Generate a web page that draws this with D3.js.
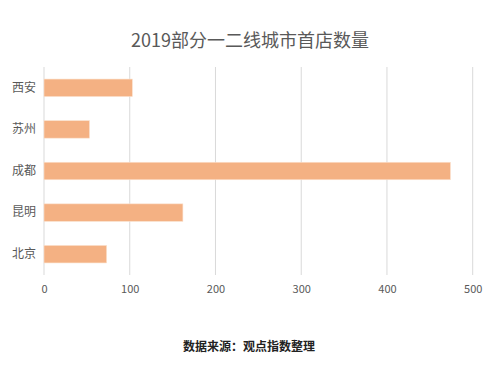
<!DOCTYPE html>
<html><head><meta charset="utf-8">
<script src="https://cdn.jsdelivr.net/npm/d3@7"></script>
<style>body{margin:0;background:#fff}</style>
</head><body>
<svg id="c" width="500" height="367"></svg>
<script>
const categories = ["西安","苏州","成都","昆明","北京"];
const values = [103, 53, 474, 162, 73];
const xTicks = [0,100,200,300,400,500];
const title = "2019部分一二线城市首店数量";
const source = "数据来源：观点指数整理";

const svg = d3.select("#c");
const font = "'Noto Sans CJK SC','Microsoft YaHei',sans-serif";
const m = {left:44, right:27.3, top:67, bottom:92};
const W = 500, H = 367;
const x = d3.scaleLinear().domain([0,500]).range([m.left, W - m.right]);
const y = d3.scaleBand().domain(categories).range([m.top, H - m.bottom]).paddingInner(0.58).paddingOuter(0.29);

svg.append("text").attr("x",250).attr("y",47).attr("text-anchor","middle")
  .attr("font-family",font).attr("font-size",18).attr("fill","#595959").text(title);

const grid = svg.append("g");
grid.selectAll("line").data(xTicks).join("line")
  .attr("x1",d=>x(d)).attr("x2",d=>x(d)).attr("y1",m.top).attr("y2",H-m.bottom)
  .attr("stroke","#d9d9d9").attr("stroke-width",1);

svg.append("g").selectAll("rect").data(values).join("rect")
  .attr("x",x(0)).attr("y",(d,i)=>y(categories[i]))
  .attr("width",d=>x(d)-x(0)).attr("height",y.bandwidth())
  .attr("fill","#F4B183").attr("stroke","#fbe0cc").attr("stroke-width",0.6);

const xa = svg.append("g").attr("transform",`translate(0,${H-m.bottom})`)
  .call(d3.axisBottom(x).tickValues(xTicks).tickSize(0).tickPadding(10));
xa.select(".domain").remove();
xa.selectAll("text").attr("font-family",font).attr("font-size",11).attr("fill","#595959");

const ya = svg.append("g").attr("transform",`translate(${m.left},0)`)
  .call(d3.axisLeft(y).tickSize(0).tickPadding(8));
ya.select(".domain").remove();
ya.selectAll("text").attr("font-family",font).attr("font-size",12).attr("fill","#595959");

svg.append("text").attr("x",249).attr("y",351).attr("text-anchor","middle")
  .attr("font-family",font).attr("font-size",12).attr("font-weight","bold").attr("fill","#222").text(source);
</script>
</body></html>
